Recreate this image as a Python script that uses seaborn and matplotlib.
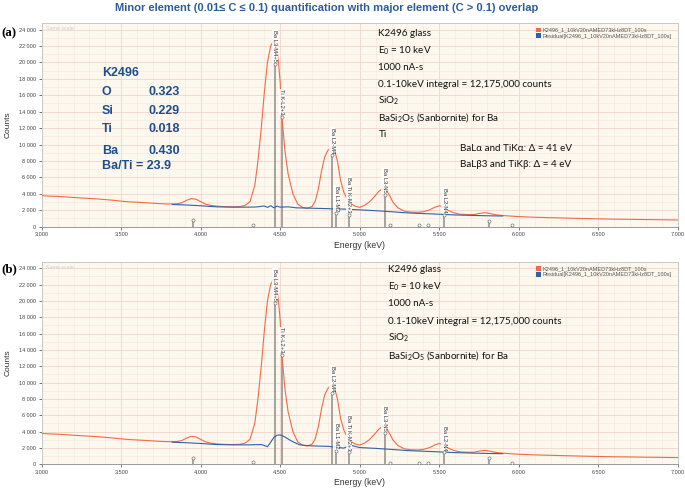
import matplotlib
matplotlib.use("Agg")
import matplotlib.pyplot as plt
import seaborn as sns
import pandas as pd
from matplotlib.patches import Patch
from matplotlib.ticker import MultipleLocator, FuncFormatter

# ---------------- data ----------------
energy = [3.00, 3.05, 3.10, 3.15, 3.20, 3.25, 3.30, 3.35, 3.40, 3.45, 3.50, 3.55,
          3.60, 3.65, 3.70, 3.75, 3.80, 3.85, 3.88, 3.91, 3.94, 3.97, 4.00, 4.03,
          4.06, 4.10, 4.15, 4.20, 4.25, 4.28, 4.31, 4.34, 4.36, 4.38, 4.40, 4.42,
          4.44, 4.46, 4.475, 4.49, 4.50, 4.51, 4.53, 4.55, 4.58, 4.61, 4.64, 4.67,
          4.70, 4.72, 4.74, 4.76, 4.78, 4.80, 4.82, 4.84, 4.86, 4.88, 4.90, 4.92,
          4.94, 4.97, 5.00, 5.03, 5.06, 5.09, 5.12, 5.145, 5.17, 5.19, 5.21, 5.24,
          5.28, 5.32, 5.36, 5.40, 5.44, 5.47, 5.50, 5.52, 5.55, 5.59, 5.63, 5.68,
          5.72, 5.76, 5.79, 5.82, 5.86, 5.90, 6.00, 6.10, 6.20, 6.30, 6.40, 6.50,
          6.60, 6.70, 6.80, 6.90, 7.00]
counts = [3780, 3720, 3690, 3620, 3560, 3500, 3440, 3380, 3300, 3220, 3110, 3030,
          2980, 2920, 2860, 2800, 2770, 2790, 2900, 3200, 3420, 3350, 3050, 2750,
          2600, 2500, 2440, 2420, 2450, 2600, 3050, 5000, 8000, 11800, 16300, 20000,
          22000, 22700, 22300, 19800, 17600, 13600, 9200, 6400, 4000, 2750, 2350, 2250,
          2450, 3100, 4600, 6800, 8500, 9300, 9600, 9450, 8000, 5600, 4200, 3400,
          2850, 2500, 2350, 2600, 3000, 3600, 4300, 4650, 4350, 3700, 2950, 2300,
          1900, 1780, 1750, 1820, 2050, 2350, 2550, 2450, 2050, 1700, 1520, 1470,
          1480, 1650, 1700, 1600, 1440, 1360, 1230, 1150, 1100, 1050, 1000, 960,
          920, 900, 870, 850, 820]

res_a_energy = [3.82, 3.90, 3.95, 4.00, 4.05, 4.10, 4.20, 4.30, 4.35, 4.40, 4.42,
                4.44, 4.46, 4.48, 4.50, 4.55, 4.60, 4.70, 4.80, 4.85, 4.90, 5.00,
                5.10, 5.20, 5.30, 5.40, 5.50, 5.60, 5.70, 5.80, 5.90]
res_a_counts = [2700, 2650, 2600, 2550, 2480, 2420, 2380, 2380, 2400, 2520, 2350,
                2560, 2300, 2500, 2380, 2420, 2300, 2250, 2200, 2150, 2150, 2050,
                1950, 1820, 1680, 1600, 1520, 1430, 1380, 1330, 1300]

res_b_energy = [3.82, 3.90, 3.95, 4.00, 4.05, 4.10, 4.20, 4.30, 4.35, 4.38, 4.40,
                4.42, 4.44, 4.46, 4.48, 4.50, 4.52, 4.55, 4.58, 4.62, 4.66, 4.70,
                4.80, 4.85, 4.90, 4.94, 4.98, 5.00, 5.10, 5.20, 5.30, 5.40, 5.50,
                5.60, 5.70, 5.80, 5.90]
res_b_counts = [2700, 2650, 2600, 2550, 2480, 2420, 2380, 2380, 2400, 2420, 2300,
                2150, 2700, 3300, 3550, 3600, 3450, 3100, 2750, 2400, 2300, 2250,
                2200, 2100, 1980, 2350, 2150, 2050, 1950, 1820, 1680, 1600, 1520,
                1430, 1380, 1330, 1300]

line_energy = [3.954, 4.331, 4.466, 4.511, 4.828, 4.852, 4.932, 5.156, 5.190,
               5.370, 5.430, 5.531, 5.815, 5.960]
line_height = [800, 250, 19800, 13400, 8700, 1650, 1450, 3850, 150,
               150, 150, 1450, 750, 200]
line_label = ["", "", "Ba L3-M4+5", "Ti K-L2+3", "Ba L2-M4", "Ba L1-M2",
              "Ba Ti K-M2+3", "Ba L3-N5", "", "", "", "Ba L2-N4", "", ""]

legend_names = ["K2496_1_10kV20nAMED73kHz8DT_100s",
                "Residual[K2496_1_10kV20nAMED73kHz8DT_100s]"]

quant_elements = ["O", "Si", "Ti", "Ba"]
quant_values = ["0.323", "0.229", "0.018", "0.430"]
ba_ti_ratio = "23.9"

info_a = ["K2496 glass", "E$_0$ = 10 keV", "1000 nA-s",
          "0.1-10keV integral = 12,175,000 counts", "SiO$_2$",
          "BaSi$_2$O$_5$ (Sanbornite) for Ba", "Ti"]
info_b = info_a[:-1]
delta_notes = ["BaL\u03b1 and TiK\u03b1: \u0394 = 41 eV",
               "BaL\u03b23 and TiK\u03b2: \u0394 = 4 eV"]

title = "Minor element (0.01\u2264 C \u2264 0.1) quantification with major element (C > 0.1) overlap"

# ---------------- styling ----------------
sns.set_theme(style="white")
plt.rcParams["font.family"] = ["Liberation Sans", "DejaVu Sans"]
plt.rcParams["mathtext.fontset"] = "custom"
plt.rcParams["mathtext.rm"] = "Lato"
plt.rcParams["mathtext.default"] = "regular"

RED = "#F26A45"
BLUE = "#2F62A8"
BG = "#FCF8EE"
TXT_BLUE = "#1F4E8C"
W, H = 685, 488

fig = plt.figure(figsize=(6.85, 4.88), dpi=100)

def fx(px):
    return px / W

def fy(py):
    return 1 - py / H

spec = pd.DataFrame({"energy": energy, "counts": counts})
res_a = pd.DataFrame({"energy": res_a_energy, "counts": res_a_counts})
res_b = pd.DataFrame({"energy": res_b_energy, "counts": res_b_counts})

def make_panel(top_px, bottom_px, residual):
    ax = fig.add_axes([fx(41.7), fy(bottom_px), fx(677.7) - fx(41.7),
                       fy(top_px) - fy(bottom_px)])
    ax.set_facecolor(BG)
    ax.set_xlim(3.0, 7.0)
    ax.set_ylim(0, 24800)
    ax.xaxis.set_major_locator(MultipleLocator(0.5))
    ax.xaxis.set_minor_locator(MultipleLocator(0.1))
    ax.yaxis.set_major_locator(MultipleLocator(2000))
    ax.yaxis.set_minor_locator(MultipleLocator(1000))
    ax.grid(which="major", color="#F1D5CC", lw=0.6)
    ax.grid(which="minor", color="#F6E6DF", lw=0.4)
    ax.set_axisbelow(True)
    ax.xaxis.set_major_formatter(FuncFormatter(lambda v, p: f"{v:.3f}"))
    ax.yaxis.set_major_formatter(
        FuncFormatter(lambda v, p: f"{int(round(v)):,}".replace(",", " ")))
    ax.tick_params(axis="both", which="major", labelsize=4.0, colors="#444444",
                   length=2, width=0.5, pad=2, left=True, bottom=True)
    ax.tick_params(axis="both", which="minor", length=0)
    for s in ax.spines.values():
        s.set_color("#C8C8C8")
        s.set_linewidth(0.7)
    ax.spines["bottom"].set_color("#999999")

    ax.vlines(line_energy, 0, line_height, color="#8C8C8C", lw=1.1, zorder=3)
    ax.plot(line_energy, line_height, ls="none", marker="o", ms=2.2,
            mfc="white", mec="#777777", mew=0.5, zorder=8)
    for e, h, lab in zip(line_energy, line_height, line_label):
        if lab:
            ax.text(e, h + 250, lab, rotation=270, ha="center", va="bottom",
                    fontsize=4.2, color="#333333", zorder=7,
                    bbox=dict(facecolor="white", edgecolor="none", pad=0.4,
                              alpha=0.85))

    sns.lineplot(data=spec, x="energy", y="counts", ax=ax, color=RED, lw=0.8,
                 zorder=6, estimator=None, sort=False)
    sns.lineplot(data=residual, x="energy", y="counts", ax=ax, color=BLUE,
                 lw=0.8, zorder=6, estimator=None, sort=False)

    ax.set_xlabel("Energy (keV)", fontsize=6.2, color="#333333")
    ax.set_ylabel("Counts", fontsize=6.0, color="#333333")
    ax.xaxis.set_label_coords(0.5, -0.068)
    ax.yaxis.set_label_coords(-0.048, 0.5)
    ax.text(0.006, 0.985, "Same scale", transform=ax.transAxes, fontsize=3.8,
            color="#CFCFCF", va="top", ha="left")
    handles = [Patch(facecolor=RED, edgecolor="none"),
               Patch(facecolor=BLUE, edgecolor="none")]
    ax.legend(handles, legend_names, loc="upper left",
              bbox_to_anchor=(fx(535), fy(top_px + 4)),
              bbox_transform=fig.transFigure, fontsize=4.0, frameon=False,
              handlelength=0.9, handleheight=0.9, handletextpad=0.3,
              labelspacing=0.1, borderpad=0.1, borderaxespad=0.0,
              labelcolor="#555555")
    return ax

ax_a = make_panel(23, 226.7, res_a)
ax_b = make_panel(261.7, 464.3, res_b)

# ---------------- texts ----------------
fig.text(fx(327), fy(8), title, ha="center", va="center", fontsize=8,
         fontweight="bold", color="#2E5C9A")
fig.text(fx(1.5), fy(33), "(a)", ha="left", va="center", fontsize=9.3,
         fontweight="bold", family=["Liberation Serif"], color="black")
fig.text(fx(1.5), fy(269), "(b)", ha="left", va="center", fontsize=9.3,
         fontweight="bold", family=["Liberation Serif"], color="black")

tfam = ["Lato", "Open Sans", "DejaVu Sans"]
for i, s in enumerate(info_a):
    fig.text(fx(378.5), fy(34 + i * 16.7), s, ha="left", va="center",
             fontsize=7.1, family=tfam, color="#111111")
for i, s in enumerate(info_b):
    fig.text(fx(388.5), fy(270 + i * 17.0), s, ha="left", va="center",
             fontsize=7.1, family=tfam, color="#111111")
for i, s in enumerate(delta_notes):
    fig.text(fx(460), fy(148.5 + i * 16.3), s, ha="left", va="center",
             fontsize=7.1, family=tfam, color="#111111")

fig.text(fx(102.5), fy(73.5), "K2496", ha="left", va="center", fontsize=9,
         fontweight="bold", color=TXT_BLUE)
qy = [91.7, 110.7, 129.3, 151]
for el, val, y in zip(quant_elements, quant_values, qy):
    fig.text(fx(101.7), fy(y), el, ha="left", va="center", fontsize=9,
             fontweight="bold", color=TXT_BLUE)
    fig.text(fx(148.3), fy(y), val, ha="left", va="center", fontsize=9,
             fontweight="bold", color=TXT_BLUE)
fig.text(fx(101.7), fy(165.7), f"Ba/Ti = {ba_ti_ratio}", ha="left", va="center",
         fontsize=9, fontweight="bold", color=TXT_BLUE)

fig.savefig("out.png", dpi=100, facecolor="white")
